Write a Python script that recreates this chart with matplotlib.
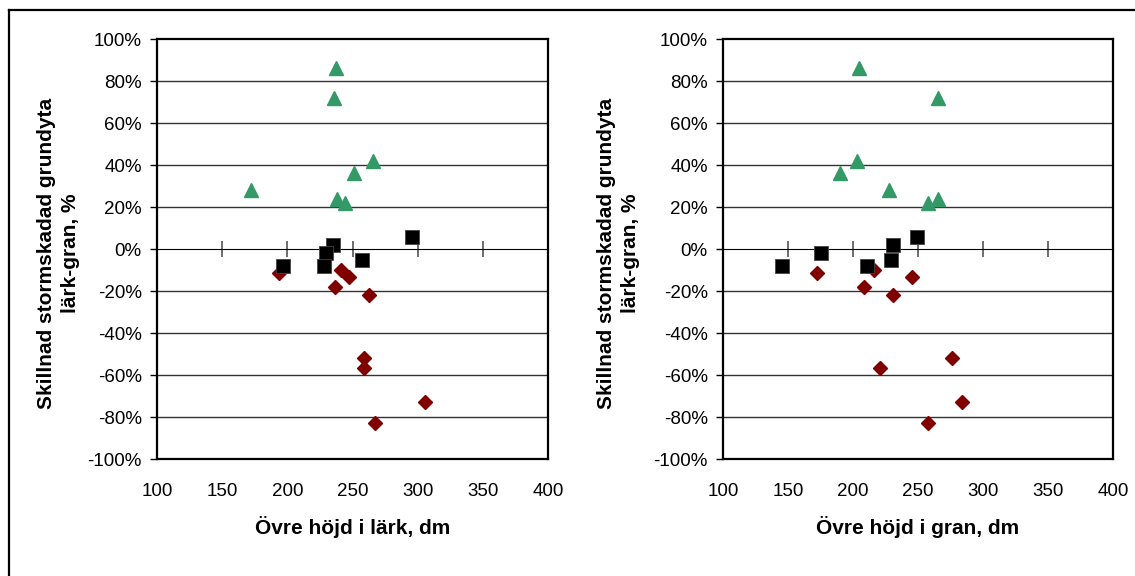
import matplotlib
matplotlib.use("Agg")
import matplotlib.pyplot as plt
from matplotlib.lines import Line2D
from matplotlib.ticker import FuncFormatter

plt.rcParams['font.family'] = ['Liberation Sans', 'DejaVu Sans']

# Difference in storm-damaged basal area (larch - spruce), %
tri_y = [86, 72, 42, 36, 28, 24, 22]
sq_y = [5.5, 2, -2, -8, -8, -5]
dia_y = [-11.5, -10, -13.5, -18, -22, -52, -56.5, -73, -83]

# Left panel: height of larch (dm)
tri_x_lark = [237, 235.5, 265.5, 251, 172, 238, 244]
sq_x_lark = [295.5, 235, 230, 196.5, 228, 257]
dia_x_lark = [193.5, 241, 247, 236.5, 262.5, 258.5, 258.5, 306, 267]

# Right panel: height of spruce (dm)
tri_x_gran = [204.5, 265, 203, 190, 227.5, 265, 258]
sq_x_gran = [249, 230.5, 175.5, 145, 210.5, 229]
dia_x_gran = [172.5, 216.5, 245, 208.5, 231, 276.5, 221, 284, 258]

x_ticks = [100, 150, 200, 250, 300, 350, 400]
y_ticks = [-100, -80, -60, -40, -20, 0, 20, 40, 60, 80, 100]
xlabels = ["Övre höjd i lärk, dm", "Övre höjd i gran, dm"]
ylabel = "Skillnad stormskadad grundyta\nlärk-gran, %"

GREEN = "#339966"
DRED = "#800000"

fig = plt.figure(figsize=(11.35, 5.76), dpi=100)

positions = [[157/1135, 117/576, 391/1135, 420/576],
             [723/1135, 117/576, 390/1135, 420/576]]
data = [(tri_x_lark, sq_x_lark, dia_x_lark), (tri_x_gran, sq_x_gran, dia_x_gran)]
label_x = [-0.197, -0.213]

for i in range(2):
    ax = fig.add_axes(positions[i])
    tx, sx, dx = data[i]
    for yv in y_ticks[1:-1]:
        if yv != 0:
            ax.axhline(yv, color="#333333", lw=1.0, zorder=1)
    ax.plot(dx, dia_y, linestyle="none", marker="D", ms=7.5, color=DRED, zorder=3)
    ax.plot(sx, sq_y, linestyle="none", marker="s", ms=10, color="black",
            markeredgecolor="#444444", markeredgewidth=0.6, zorder=4)
    ax.plot(tx, tri_y, linestyle="none", marker="^", ms=10, color=GREEN, zorder=5)

    ax.set_xlim(x_ticks[0], x_ticks[-1])
    ax.set_ylim(y_ticks[0], y_ticks[-1])
    ax.set_xticks(x_ticks)
    ax.set_yticks(y_ticks)
    ax.yaxis.set_major_formatter(FuncFormatter(lambda v, p: f"{int(round(v))}%"))
    ax.tick_params(axis="x", length=0, pad=17, labelsize=13.5)
    ax.tick_params(axis="y", direction="out", length=5, width=1, pad=6, labelsize=13.5)
    for s in ax.spines.values():
        s.set_linewidth(1.6)
        s.set_color("black")

    sec = ax.secondary_xaxis(0.5)
    sec.set_xticks(x_ticks[1:-1])
    sec.tick_params(axis="x", direction="inout", length=11, width=1.2, color="#555555",
                    labelbottom=False, labeltop=False)
    sec.spines["bottom"].set_linewidth(1.2)
    sec.spines["bottom"].set_color("black")

    ax.set_xlabel(xlabels[i], fontsize=15, fontweight="bold", labelpad=12)
    ax.set_ylabel(ylabel, fontsize=15, fontweight="bold", linespacing=1.35)
    ax.yaxis.set_label_coords(label_x[i], 0.49)

# outer frame (top and left edges)
fig.add_artist(Line2D([8.5/1135, 1.0], [1 - 9.5/576, 1 - 9.5/576], color="black", lw=1.6,
                      transform=fig.transFigure))
fig.add_artist(Line2D([8.5/1135, 8.5/1135], [0.0, 1 - 9.5/576], color="black", lw=1.6,
                      transform=fig.transFigure))

fig.savefig("out.png", dpi=100)
